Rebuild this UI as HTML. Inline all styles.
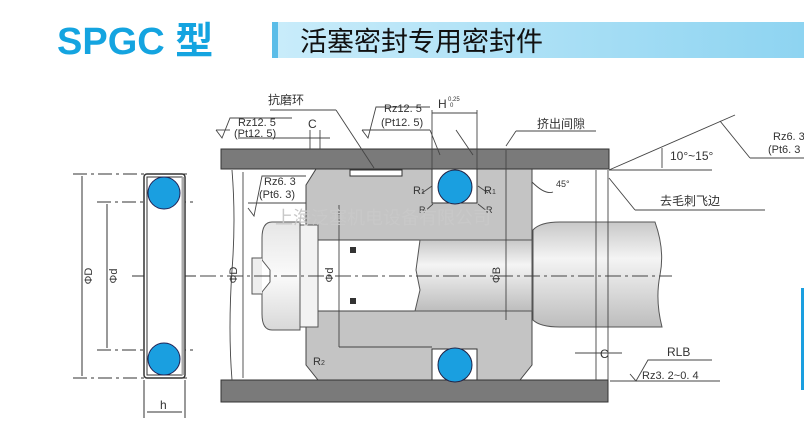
<!DOCTYPE html>
<html><head><meta charset="utf-8"><style>
html,body{margin:0;padding:0;background:#fff;}
svg{display:block;}
text{font-family:"Liberation Sans","Noto Sans CJK SC",sans-serif;fill:#333;}
</style></head><body>
<svg width="804" height="438" viewBox="0 0 804 438" xmlns="http://www.w3.org/2000/svg">
<defs>
<linearGradient id="hb" x1="0" x2="1" y1="0" y2="0"><stop offset="0" stop-color="#c9ecfa"/><stop offset="1" stop-color="#8ed4f1"/></linearGradient>
<linearGradient id="rod" x1="0" x2="0" y1="0" y2="1"><stop offset="0" stop-color="#c8c8c8"/><stop offset="0.35" stop-color="#f4f4f4"/><stop offset="1" stop-color="#bdbdbd"/></linearGradient>
<linearGradient id="nut" x1="0" x2="0" y1="0" y2="1"><stop offset="0" stop-color="#e6e6e6"/><stop offset="0.5" stop-color="#fafafa"/><stop offset="1" stop-color="#d8d8d8"/></linearGradient>
</defs>
<!-- header -->
<text x="57" y="54" font-size="38" font-weight="bold" style="fill:#14a4e0">SPGC 型</text>
<rect x="272" y="22" width="532" height="36" fill="url(#hb)"/>
<rect x="272" y="22" width="6" height="36" fill="#5bbde8"/>
<text x="300" y="51" font-size="27" style="fill:#111">活塞密封专用密封件</text>

<!-- left seal ring -->
<g stroke="#333" fill="none" stroke-width="1">
<line x1="73" y1="174" x2="190" y2="174" stroke-dasharray="14,4,3,4"/>
<line x1="73" y1="378" x2="190" y2="378" stroke-dasharray="14,4,3,4"/>
<line x1="97" y1="202" x2="195" y2="202" stroke-dasharray="14,4,3,4"/>
<line x1="97" y1="350" x2="195" y2="350" stroke-dasharray="14,4,3,4"/>
<line x1="132" y1="276" x2="210" y2="276" stroke-dasharray="14,4,3,4"/>
<line x1="82" y1="176" x2="82" y2="376"/>
<line x1="107" y1="204" x2="107" y2="348"/>
<rect x="144" y="174" width="41" height="204" rx="3" fill="#fff" stroke-width="1.5"/>
<rect x="147" y="177" width="35" height="198" fill="#fff" stroke-width="1"/>
<line x1="183" y1="177" x2="183" y2="375" stroke="#aaa" stroke-width="3"/>
<line x1="144" y1="380" x2="144" y2="418"/>
<line x1="185" y1="380" x2="185" y2="418"/>
<line x1="147" y1="412" x2="182" y2="412"/>
</g>
<circle cx="164" cy="193" r="16" fill="#1a9fe0" stroke="#225" stroke-width="1"/>
<circle cx="164" cy="359" r="16" fill="#1a9fe0" stroke="#225" stroke-width="1"/>
<text x="0" y="0" font-size="11" transform="translate(92,276) rotate(-90)" text-anchor="middle">ΦD</text>
<text x="0" y="0" font-size="11" transform="translate(117,276) rotate(-90)" text-anchor="middle">Φd</text>
<text x="160" y="409" font-size="12">h</text>

<!-- main drawing -->
<!-- piston bodies -->
<path d="M306,185 L316,169 L532,169 L532,240 L306,240 Z" fill="#c4c4c4" stroke="#444"/>
<path d="M306,311 L532,311 L532,365 L520,380 L318,380 L306,365 Z" fill="#c4c4c4" stroke="#444"/>
<!-- inner bore -->
<rect x="318" y="240" width="214" height="71" fill="#fff" stroke="#444"/>
<path d="M420,240 L532,240 L532,311 L415,311 L420,290 L416,270 Z" fill="url(#rod)" stroke="#555"/>
<rect x="350" y="247" width="6" height="6" fill="#333"/>
<rect x="350" y="298" width="6" height="6" fill="#333"/>
<!-- nut -->
<rect x="300" y="225" width="18" height="102" fill="#f2f2f2" stroke="#555"/>
<path d="M300,222 L272,222 Q262,222 262,238 L262,260 L270,270 L270,282 L262,292 L262,314 Q262,330 272,330 L300,330 Z" fill="url(#nut)" stroke="#555"/>
<path d="M262,258 L252,258 L252,294 L262,294" fill="#eee" stroke="#555"/>
<!-- rod -->
<path d="M533,230 Q540,222 560,222 L655,222 Q665,250 660,275 Q655,300 662,327 L560,327 Q540,327 533,320 Z" fill="url(#rod)" stroke="#555"/>
<!-- top/bottom bars -->
<rect x="221" y="149" width="388" height="20" fill="#7a7a7a" stroke="#333"/>
<rect x="221" y="380" width="387" height="22" fill="#7a7a7a" stroke="#333"/>
<!-- grooves -->
<rect x="432" y="169" width="45" height="34" fill="#fff" stroke="#333"/>
<rect x="432" y="349" width="45" height="31" fill="#fff" stroke="#333"/>
<circle cx="455" cy="187" r="17" fill="#1a9fe0" stroke="#224"/>
<circle cx="455" cy="365" r="17" fill="#1a9fe0" stroke="#224"/>
<rect x="350" y="170" width="52" height="6" fill="#fff" stroke="#333"/>
<!-- lines -->
<g stroke="#444" fill="none" stroke-width="0.9">
<line x1="200" y1="276" x2="672" y2="276" stroke-dasharray="16,4,3,4"/>
<path d="M232,170 Q236,220 232,270 Q228,330 232,380"/>
<line x1="243" y1="172" x2="243" y2="378"/>
<line x1="339" y1="205" x2="339" y2="347"/>
<line x1="339" y1="347" x2="432" y2="347"/>
<line x1="506" y1="150" x2="506" y2="320"/>
<line x1="596" y1="170" x2="596" y2="380"/>
<line x1="608" y1="170" x2="608" y2="380"/>
<!-- surface marks -->
<path d="M216,130 L222,138 L230,118 L292,118"/><line x1="216" y1="130" x2="230" y2="130"/>
<line x1="238" y1="138" x2="330" y2="138"/>
<line x1="310" y1="130" x2="310" y2="149"/><line x1="320" y1="130" x2="320" y2="149"/>
<path d="M362,130 L368,138 L376,107 L430,107"/><line x1="362" y1="130" x2="430" y2="130"/>
<line x1="432" y1="110" x2="432" y2="169"/><line x1="477" y1="110" x2="477" y2="169"/>
<line x1="432" y1="113" x2="477" y2="113"/>
<path d="M248,208 L254,216 L262,176 L306,176"/><line x1="248" y1="203" x2="306" y2="203"/>
<line x1="270" y1="110" x2="336" y2="110"/><line x1="336" y1="110" x2="374" y2="168"/>
<line x1="430" y1="130" x2="440" y2="155"/><line x1="456" y1="130" x2="473" y2="155"/>
<line x1="516" y1="131" x2="596" y2="131"/><line x1="516" y1="131" x2="506" y2="146"/>
<path d="M532,182 Q545,195 553,192"/>
<line x1="609" y1="170" x2="735" y2="115"/>
<line x1="609" y1="170" x2="712" y2="170"/>
<line x1="662" y1="148" x2="662" y2="168"/>
<line x1="720" y1="121" x2="750" y2="158"/><line x1="750" y1="158" x2="804" y2="158"/>
<line x1="609" y1="178" x2="635" y2="210"/><line x1="635" y1="210" x2="765" y2="210"/>
<line x1="575" y1="353" x2="622" y2="353"/>
<path d="M630,374 L636,381 L648,360 L712,360"/><line x1="610" y1="381" x2="720" y2="381"/>
<line x1="422" y1="193" x2="432" y2="186"/><line x1="488" y1="193" x2="478" y2="186"/>
<line x1="424" y1="212" x2="433" y2="204"/><line x1="488" y1="212" x2="478" y2="204"/>
</g>
<!-- labels -->
<text x="268" y="104" font-size="12">抗磨环</text>
<text x="238" y="126" font-size="11">Rz12. 5</text>
<text x="234" y="137" font-size="11">(Pt12. 5)</text>
<text x="308" y="128" font-size="12">C</text>
<text x="384" y="112" font-size="11">Rz12. 5</text>
<text x="381" y="126" font-size="11">(Pt12. 5)</text>
<text x="438" y="108" font-size="12">H</text>
<text x="448" y="101" font-size="6">0.25</text>
<text x="450" y="107" font-size="6">0</text>
<text x="537" y="128" font-size="12">挤出间隙</text>
<text x="264" y="185" font-size="11">Rz6. 3</text>
<text x="259" y="198" font-size="11">(Pt6. 3)</text>
<text x="413" y="194" font-size="11">R<tspan font-size="7">1</tspan></text>
<text x="484" y="194" font-size="11">R<tspan font-size="7">1</tspan></text>
<text x="419" y="213" font-size="9">R</text>
<text x="486" y="213" font-size="9">R</text>
<text x="556" y="187" font-size="9">45°</text>
<text x="670" y="160" font-size="12">10°~15°</text>
<text x="773" y="140" font-size="11">Rz6. 3</text>
<text x="768" y="153" font-size="11">(Pt6. 3</text>
<text x="660" y="205" font-size="12">去毛刺飞边</text>
<text x="0" y="0" font-size="11" transform="translate(237,275) rotate(-90)" text-anchor="middle">ΦD</text>
<text x="0" y="0" font-size="11" transform="translate(333,275) rotate(-90)" text-anchor="middle">Φd</text>
<text x="0" y="0" font-size="11" transform="translate(500,275) rotate(-90)" text-anchor="middle">ΦB</text>
<text x="313" y="365" font-size="11">R<tspan font-size="7">2</tspan></text>
<text x="600" y="358" font-size="12">C</text>
<text x="667" y="356" font-size="12">RLB</text>
<text x="642" y="379" font-size="11">Rz3. 2~0. 4</text>
<text x="275" y="224" font-size="18" style="fill:#c8c8c8">上海泛塞机电设备有限公司</text>
<rect x="801" y="288" width="3" height="102" fill="#1a9fe0"/>
</svg>
</body></html>
